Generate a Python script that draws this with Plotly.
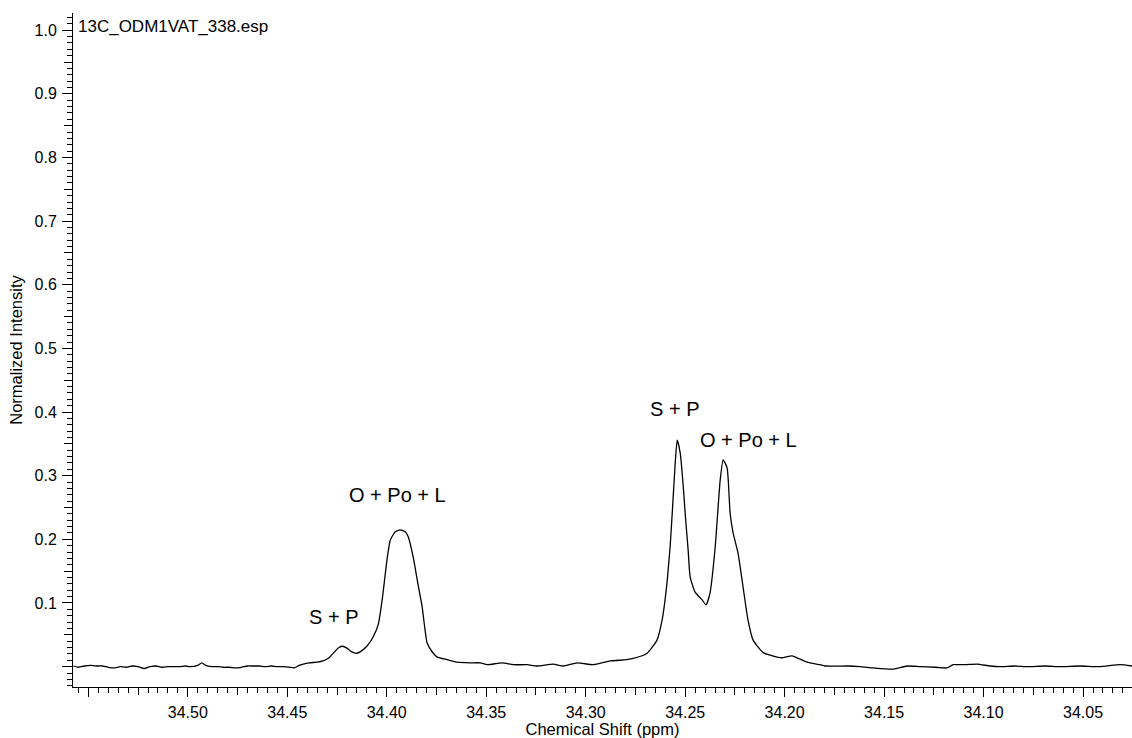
import plotly.graph_objects as go

# Chemical shift (ppm) and normalized intensity
shift_ppm = [
    34.5575, 34.5550, 34.5520, 34.5490, 34.5460, 34.5430, 34.5400, 34.5370, 34.5340, 34.5310,
    34.5280, 34.5250, 34.5220, 34.5190, 34.5160, 34.5130, 34.5100, 34.5070, 34.5040, 34.5010,
    34.4990, 34.4950, 34.4930, 34.4910, 34.4880, 34.4850, 34.4820, 34.4790, 34.4760, 34.4730,
    34.4700, 34.4670, 34.4640, 34.4610, 34.4580, 34.4550, 34.4520, 34.4490, 34.4465, 34.4440,
    34.4420, 34.4390, 34.4350, 34.4320, 34.4290, 34.4260, 34.4240, 34.4222, 34.4200, 34.4180,
    34.4150, 34.4130, 34.4100, 34.4068, 34.4043, 34.4023, 34.3997, 34.3982, 34.3957, 34.3932,
    34.3907, 34.3892, 34.3867, 34.3842, 34.3822, 34.3797, 34.3771, 34.3746, 34.3696, 34.3646,
    34.3581, 34.3530, 34.3495, 34.3420, 34.3364, 34.3294, 34.3244, 34.3163, 34.3113, 34.3043,
    34.2962, 34.2877, 34.2827, 34.2761, 34.2691, 34.2641, 34.2616, 34.2601, 34.2590, 34.2575,
    34.2565, 34.2550, 34.2540, 34.2525, 34.2510, 34.2500, 34.2485, 34.2475, 34.2450, 34.2415,
    34.2395, 34.2375, 34.2349, 34.2324, 34.2309, 34.2289, 34.2274, 34.2259, 34.2234, 34.2209,
    34.2184, 34.2159, 34.2108, 34.2038, 34.2008, 34.1963, 34.1887, 34.1822, 34.1797, 34.1681,
    34.1621, 34.1555, 34.1460, 34.1384, 34.1319, 34.1244, 34.1183, 34.1153, 34.1093, 34.1033,
    34.0967, 34.0917, 34.0842, 34.0781, 34.0691, 34.0616, 34.0515, 34.0415, 34.0314, 34.0254,
]
intensity = [
    0.001, -0.001, 0.001, 0.002, 0.001, 0.001, -0.001, -0.002, 0.000, -0.001,
    0.001, 0.000, -0.003, 0.000, 0.001, -0.001, 0.000, 0.000, 0.000, 0.001,
    0.000, 0.002, 0.006, 0.002, 0.000, 0.000, -0.001, -0.001, -0.002, -0.001,
    0.001, 0.001, 0.001, 0.000, 0.001, 0.000, 0.000, -0.001, -0.002, 0.002,
    0.004, 0.006, 0.007, 0.009, 0.014, 0.024, 0.030, 0.032, 0.029, 0.024,
    0.021, 0.024, 0.032, 0.047, 0.066, 0.105, 0.172, 0.199, 0.212, 0.215,
    0.212, 0.204, 0.172, 0.128, 0.094, 0.037, 0.023, 0.015, 0.011, 0.007,
    0.006, 0.006, 0.003, 0.006, 0.003, 0.003, 0.001, 0.004, 0.001, 0.006,
    0.003, 0.009, 0.010, 0.013, 0.021, 0.042, 0.073, 0.105, 0.136, 0.191,
    0.241, 0.320, 0.356, 0.336, 0.285, 0.241, 0.183, 0.141, 0.117, 0.105,
    0.097, 0.116, 0.188, 0.293, 0.325, 0.312, 0.241, 0.210, 0.178, 0.125,
    0.073, 0.042, 0.022, 0.015, 0.014, 0.017, 0.007, 0.003, 0.001, 0.001,
    0.000, -0.002, -0.004, 0.001, 0.000, -0.001, -0.002, 0.003, 0.003, 0.004,
    0.001, 0.000, 0.001, 0.000, 0.001, 0.000, 0.001, 0.000, 0.003, 0.001,
]

# Axis ticks
x_major = [34.55, 34.50, 34.45, 34.40, 34.35, 34.30, 34.25, 34.20, 34.15, 34.10, 34.05]
x_major_text = ["", "34.50", "34.45", "34.40", "34.35", "34.30", "34.25", "34.20", "34.15", "34.10", "34.05"]
x_mid = [34.525, 34.475, 34.425, 34.375, 34.325, 34.275, 34.225, 34.175, 34.125, 34.075, 34.025]
y_major = [0.0, 0.1, 0.2, 0.3, 0.4, 0.5, 0.6, 0.7, 0.8, 0.9, 1.0]
y_major_text = ["", "0.1", "0.2", "0.3", "0.4", "0.5", "0.6", "0.7", "0.8", "0.9", "1.0"]
y_mid = [-0.05, 0.05, 0.15, 0.25, 0.35, 0.45, 0.55, 0.65, 0.75, 0.85, 0.95]

x_range = [34.5577, 34.0254]
y_range = [-0.032, 1.027]

# Peak labels
label_text = ["S + P", "O + Po + L", "S + P", "O + Po + L"]
label_x = [34.4269, 34.3947, 34.2555, 34.2184]
label_y = [0.078, 0.270, 0.405, 0.356]

FONT = "Liberation Sans, Arial, sans-serif"

fig = go.Figure()
fig.add_trace(go.Scatter(
    x=shift_ppm, y=intensity, mode="lines",
    line=dict(color="black", width=1.3, shape="spline", smoothing=0.5),
    showlegend=False, hoverinfo="x+y",
))
# empty trace to host the mid-tick overlay axes
fig.add_trace(go.Scatter(x=[], y=[], xaxis="x2", yaxis="y2", showlegend=False))

fig.update_layout(
    width=1132, height=738,
    margin=dict(l=73, r=0, t=13, b=51),
    paper_bgcolor="white", plot_bgcolor="white",
    font=dict(family=FONT, color="black", size=16),
    xaxis=dict(
        range=x_range, tickmode="array", tickvals=x_major, ticktext=x_major_text,
        ticks="outside", ticklen=9, tickwidth=1, tickcolor="black",
        showline=True, linecolor="black", linewidth=1, showgrid=False, zeroline=False,
        tickfont=dict(size=16), ticklabelstandoff=2,
        title=dict(text="Chemical Shift (ppm)", font=dict(size=16.5), standoff=1),
        minor=dict(tickmode="linear", tick0=34.0, dtick=0.005, ticks="outside",
                   ticklen=5, tickwidth=1, tickcolor="black", showgrid=False),
    ),
    yaxis=dict(
        range=y_range, tickmode="array", tickvals=y_major, ticktext=y_major_text,
        ticks="outside", ticklen=10, tickwidth=1, tickcolor="black",
        showline=True, linecolor="black", linewidth=1, showgrid=False, zeroline=False,
        tickfont=dict(size=16), ticklabelstandoff=2,
        title=dict(text="Normalized Intensity", font=dict(size=16.5), standoff=7),
        minor=dict(tickmode="linear", tick0=0.0, dtick=0.01, ticks="outside",
                   ticklen=5, tickwidth=1, tickcolor="black", showgrid=False),
    ),
    xaxis2=dict(
        overlaying="x", anchor="y2", side="bottom", range=x_range,
        tickmode="array", tickvals=x_mid, ticks="outside", ticklen=7, tickwidth=1,
        tickcolor="black", showticklabels=False, showline=False, showgrid=False, zeroline=False,
    ),
    yaxis2=dict(
        overlaying="y", anchor="x2", side="left", range=y_range,
        tickmode="array", tickvals=y_mid, ticks="outside", ticklen=8, tickwidth=1,
        tickcolor="black", showticklabels=False, showline=False, showgrid=False, zeroline=False,
    ),
)

for t, x, y in zip(label_text, label_x, label_y):
    fig.add_annotation(x=x, y=y, xref="x", yref="y", text=t, showarrow=False,
                       font=dict(family=FONT, size=20, color="black"),
                       xanchor="center", yanchor="middle")

fig.add_annotation(x=0.003, y=1.006, xref="paper", yref="y", text="13C_ODM1VAT_338.esp",
                   showarrow=False, font=dict(family=FONT, size=17, color="black"),
                   xanchor="left", yanchor="middle")

fig.write_html(
    "out.html",
    config={"displayModeBar": False},
    post_script="document.body.style.margin='0';document.body.style.overflow='hidden';",
)
